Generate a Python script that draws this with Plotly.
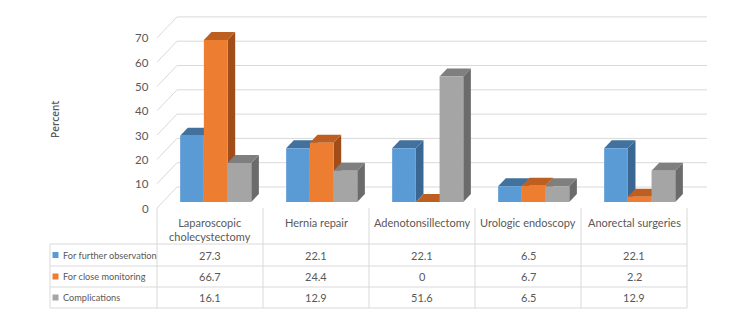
import plotly.graph_objects as go

categories = ["Laparoscopic<br>cholecystectomy", "Hernia repair", "Adenotonsillectomy",
              "Urologic endoscopy", "Anorectal surgeries"]
series_names = ["For further observation", "For close monitoring", "Complications"]
further_observation = [27.3, 22.1, 22.1, 6.5, 22.1]
close_monitoring = [66.7, 24.4, 0, 6.7, 2.2]
complications = [16.1, 12.9, 51.6, 6.5, 12.9]
y_ticks = [0, 10, 20, 30, 40, 50, 60, 70]
y_title = "Percent"

series_values = [further_observation, close_monitoring, complications]
front_cols = ["#5B9BD5", "#ED7D31", "#A5A5A5"]
top_cols = ["#41719C", "#BE5F22", "#7F7F7F"]
side_cols = ["#3A6791", "#A14D19", "#6B6B6B"]

W, H = 750, 317
PX_PER_CAT = 106.0
PX_PER_UNIT = 2.43
X0_PX = 210.0      # pixel of category 0 centre
Y0_PX = 208.0      # pixel of value 0 at the front of the floor

def px2x(px):
    return (px - X0_PX) / PX_PER_CAT

def py2y(py):
    return (Y0_PX - py) / PX_PER_UNIT

# depth of the 3D box in data units
DEPTH_X = 20.0 / PX_PER_CAT
DEPTH_Y = 21.0 / PX_PER_UNIT
F0, F1 = 6.0 / 21.0, 14.0 / 21.0      # bar front / back depth fractions
BAR_W = 23.7 / PX_PER_CAT
GRID = "#D9D9D9"
TXT = "#595959"
FONT = "Lato, Liberation Sans, sans-serif"

fig = go.Figure()

n = len(categories)
x_left, x_right = -0.5, n - 0.5

# back wall gridlines + left wall diagonals
gx, gy = [], []
for v in y_ticks:
    gx += [x_left, x_left + DEPTH_X, x_right + DEPTH_X, None]
    gy += [v, v + DEPTH_Y, v + DEPTH_Y, None]
fig.add_trace(go.Scatter(x=gx, y=gy, mode="lines", line=dict(color=GRID, width=1),
                         hoverinfo="skip", showlegend=False))

def poly(xs, ys, color):
    fig.add_trace(go.Scatter(x=xs + [xs[0]], y=ys + [ys[0]], mode="lines", fill="toself",
                             fillcolor=color, line=dict(width=0, color=color),
                             hoverinfo="skip", showlegend=False))

ddx = (F1 - F0) * DEPTH_X
ddy = (F1 - F0) * DEPTH_Y
for i in range(n):
    for s in range(3):
        v = series_values[s][i]
        xl = i + F0 * DEPTH_X + (s - 1.5) * BAR_W
        xr = xl + BAR_W
        yb = F0 * DEPTH_Y
        yt = yb + v
        # side
        if v > 0:
            poly([xr, xr + ddx, xr + ddx, xr], [yb, yb + ddy, yt + ddy, yt], side_cols[s])
        # top
        poly([xl, xr, xr + ddx, xl + ddx], [yt, yt, yt + ddy, yt + ddy], top_cols[s])
        # front
        if v > 0:
            poly([xl, xr, xr, xl], [yb, yb, yt, yt], front_cols[s])

annotations = []
# y tick labels
for v in y_ticks:
    annotations.append(dict(x=px2x(151), y=v, text=str(v), showarrow=False, xanchor="right",
                            yanchor="middle", font=dict(family=FONT, size=11.5, color=TXT)))
annotations.append(dict(x=px2x(55), y=py2y(120), text=y_title, showarrow=False, textangle=-90,
                        font=dict(family="Open Sans, DejaVu Sans, sans-serif", size=10,
                                  color=TXT, weight=600)))

# data table
row_lines_py = [244, 266, 287, 308]
col_lines_px = [157 + PX_PER_CAT * k for k in range(n + 1)]
tx, ty = [], []
for py in row_lines_py:
    tx += [px2x(50), px2x(col_lines_px[-1]), None]
    ty += [py2y(py), py2y(py), None]
tx += [px2x(50), px2x(50), None]
ty += [py2y(244), py2y(308), None]
for px in col_lines_px:
    tx += [px2x(px), px2x(px), None]
    ty += [py2y(208), py2y(308), None]
fig.add_trace(go.Scatter(x=tx, y=ty, mode="lines", line=dict(color=GRID, width=1),
                         hoverinfo="skip", showlegend=False))

for i, c in enumerate(categories):
    annotations.append(dict(x=i, y=py2y(214), text=c, showarrow=False, xanchor="center",
                            yanchor="top", font=dict(family=FONT, size=11, color=TXT)))
row_centers = [(row_lines_py[k] + row_lines_py[k + 1]) / 2 for k in range(3)]
for s in range(3):
    yc = py2y(row_centers[s])
    for i in range(n):
        annotations.append(dict(x=i, y=yc, text=str(series_values[s][i]), showarrow=False,
                                xanchor="center", yanchor="middle",
                                font=dict(family=FONT, size=11, color=TXT)))
    annotations.append(dict(x=px2x(61), y=yc, text=series_names[s], showarrow=False,
                            xanchor="left", yanchor="middle",
                            font=dict(family=FONT, size=9.2, color=TXT)))

fig.add_trace(go.Scatter(x=[px2x(55.5)] * 3, y=[py2y(r) for r in row_centers], mode="markers",
                         marker=dict(symbol="square", size=6, color=front_cols, line=dict(width=0)),
                         hoverinfo="skip", showlegend=False))

fig.update_layout(
    width=W, height=H, margin=dict(l=0, r=0, t=0, b=0),
    paper_bgcolor="white", plot_bgcolor="white", showlegend=False,
    xaxis=dict(range=[px2x(0), px2x(W)], visible=False, fixedrange=True),
    yaxis=dict(range=[py2y(H), py2y(0)], visible=False, fixedrange=True),
    annotations=annotations,
)

fig.write_html("out.html")
